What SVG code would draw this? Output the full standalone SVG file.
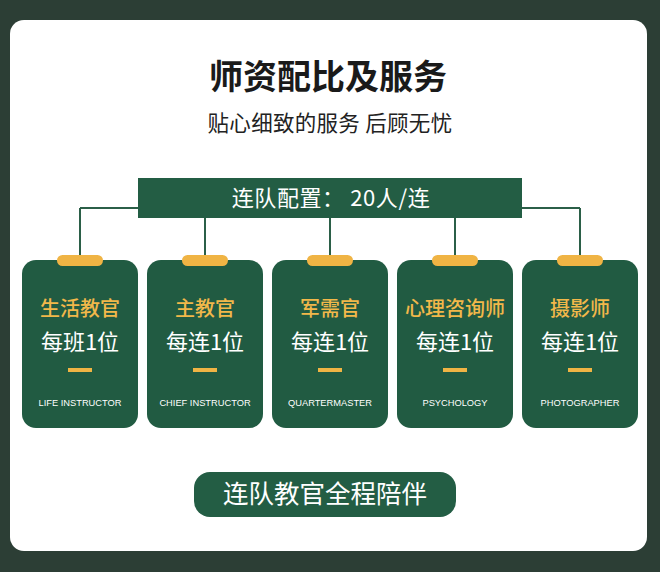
<svg xmlns="http://www.w3.org/2000/svg" width="660" height="572" viewBox="0 0 660 572">
<style>
.cjk{font-family:"Noto Sans CJK SC","Noto Sans",sans-serif}
.card{fill:#215b42}
.tab{fill:#f0b444}
.dash{fill:#f0b444}
.t1{font-size:20px;fill:#f2b84a;text-anchor:middle;font-weight:500}
.t2{font-size:22px;fill:#ffffff;text-anchor:middle}
.en{font-family:"Liberation Sans",Arial,sans-serif;font-size:9.3px;fill:#ffffff;text-anchor:middle}
.ln{stroke:#2b5f48;stroke-width:2;fill:none}
</style>
<rect x="0" y="0" width="660" height="572" fill="#2c3e35"/>
<rect x="10" y="20" width="637" height="531" rx="14" fill="#ffffff"/>
<g id="title">
<text class="cjk" x="328" y="89" font-size="34" font-weight="bold" fill="#1a1a1a" text-anchor="middle">师资配比及服务</text>
<text class="cjk" x="330" y="131" font-size="21.5" fill="#222222" text-anchor="middle" letter-spacing="0.3">贴心细致的服务 后顾无忧</text>
</g>
<g id="connectors">
<path class="ln" d="M80 208H580M80 208V262M205 218V262M330 218V262M455 218V262M580 208V262"/>
</g>
<g id="header">
<rect x="138" y="178" width="384" height="40" fill="#235d44"/>
<text class="cjk" x="331" y="206" font-size="22" fill="#ffffff" text-anchor="middle" letter-spacing="0.6">连队配置： 20人/连</text>
</g>
<g id="card1">
<rect class="card" x="22" y="260" width="116" height="168" rx="14"/>
<rect class="tab" x="57" y="255" width="46" height="11" rx="5.5"/>
<text class="cjk t1" x="80" y="316">生活教官</text>
<text class="cjk t2" x="80" y="350">每班1位</text>
<rect class="dash" x="68" y="368" width="24" height="4"/>
<text class="en" x="80" y="406">LIFE INSTRUCTOR</text>
</g>
<g id="card2">
<rect class="card" x="147" y="260" width="116" height="168" rx="14"/>
<rect class="tab" x="182" y="255" width="46" height="11" rx="5.5"/>
<text class="cjk t1" x="205" y="316">主教官</text>
<text class="cjk t2" x="205" y="350">每连1位</text>
<rect class="dash" x="193" y="368" width="24" height="4"/>
<text class="en" x="205" y="406">CHIEF INSTRUCTOR</text>
</g>
<g id="card3">
<rect class="card" x="272" y="260" width="116" height="168" rx="14"/>
<rect class="tab" x="307" y="255" width="46" height="11" rx="5.5"/>
<text class="cjk t1" x="330" y="316">军需官</text>
<text class="cjk t2" x="330" y="350">每连1位</text>
<rect class="dash" x="318" y="368" width="24" height="4"/>
<text class="en" x="330" y="406">QUARTERMASTER</text>
</g>
<g id="card4">
<rect class="card" x="397" y="260" width="116" height="168" rx="14"/>
<rect class="tab" x="432" y="255" width="46" height="11" rx="5.5"/>
<text class="cjk t1" x="455" y="316">心理咨询师</text>
<text class="cjk t2" x="455" y="350">每连1位</text>
<rect class="dash" x="443" y="368" width="24" height="4"/>
<text class="en" x="455" y="406">PSYCHOLOGY</text>
</g>
<g id="card5">
<rect class="card" x="522" y="260" width="116" height="168" rx="14"/>
<rect class="tab" x="557" y="255" width="46" height="11" rx="5.5"/>
<text class="cjk t1" x="580" y="316">摄影师</text>
<text class="cjk t2" x="580" y="350">每连1位</text>
<rect class="dash" x="568" y="368" width="24" height="4"/>
<text class="en" x="580" y="406">PHOTOGRAPHER</text>
</g>
<g id="button">
<rect x="194" y="472" width="262" height="45" rx="16" fill="#235d44"/>
<text class="cjk" x="325" y="503" font-size="25.5" fill="#ffffff" text-anchor="middle">连队教官全程陪伴</text>
</g>
</svg>
